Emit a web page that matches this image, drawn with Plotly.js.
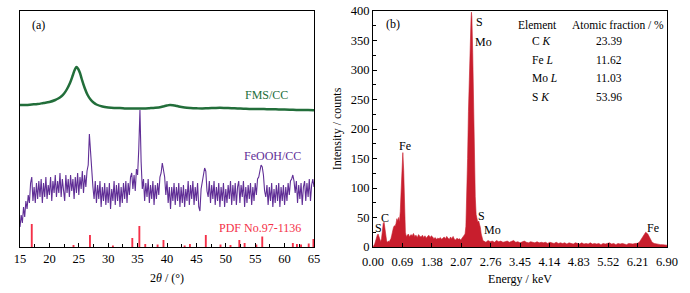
<!DOCTYPE html>
<html>
<head>
<meta charset="utf-8">
<script src="https://cdn.plot.ly/plotly-3.0.1.min.js"></script>
<style>html,body{margin:0;padding:0;background:#fff;}#chart{width:690px;height:293px;}</style>
</head>
<body>
<div id="chart"></div>
<script>
// ---------- Panel (a): XRD ----------
const fmsAngle = [15,16,17,18,19,20,21,21.5,22,22.5,23,23.5,24,24.3,24.6,24.9,25.2,25.5,26,26.5,27,27.5,28,29,30,31,32,33,34,35,36,37,38,39,39.5,40,40.5,41,41.5,42,43,44,45,46,47,48,49,50,51,52,53,54,55,56,57,58,59,60,61,62,63,64,65];
const fmsIntensity = [142,142,142.5,143,144,145,147,148.5,150.5,153.5,158,164,172,177,180,178,174,168,159,152,147.5,144.5,142.5,140.5,139.5,139,139,138.5,138.5,138.5,138.5,138.8,139.2,140,140.8,141.5,142,141.8,141.3,140.5,139.5,139,138.7,138.5,138.8,139,139.2,139,138.8,138.5,138.3,138,138,138,137.8,137.8,137.5,137.5,137.3,137,137,137,136.8];

// FeOOH/CC pattern, sampled every 0.2 deg starting at 15 deg
const feoohStart = 15, feoohStep = 0.2;
const feoohIntensity = [
20,32,24,40,30,46,38,52,44,64,
70,46,60,44,64,48,66,50,68,44,
64,50,70,48,62,52,70,46,66,54,
72,50,66,54,74,50,68,56,46,72,
54,68,50,72,56,68,48,70,54,74,
52,70,58,76,54,72,60,76,82,113,
95,72,60,48,66,44,62,48,66,40,
60,46,64,42,60,44,64,38,58,46,
66,42,62,46,64,40,60,44,64,48,
66,44,64,52,70,74,58,72,56,78,
72,98,137,85,58,68,46,64,50,68,
44,62,48,66,42,62,48,64,52,70,
74,84,78,70,52,66,44,60,38,60,
46,64,42,60,46,64,40,60,44,62,
40,58,46,66,42,62,48,66,42,60,
46,64,40,36,58,64,72,79,76,56,
50,66,44,62,48,66,42,60,46,64,
40,60,46,64,40,58,44,62,48,66,
42,62,46,64,42,60,66,44,62,50,
66,40,60,44,62,48,64,42,60,46,
64,52,68,70,76,82,80,72,56,50,
62,42,60,46,64,40,58,44,62,46,
64,40,60,46,62,42,60,46,64,52,
66,68,72,66,54,66,44,62,48,64,
42,60,66,46,64,50,68,46,62,68,
60];

// PDF No.97-1136 reference lines
const pdfAngle = [17.0,24.1,26.9,30.8,34.1,35.3,36.3,38.4,39.4,43.0,43.9,46.6,49.1,50.8,52.3,53.2,55.2,56.2,61.4,62.1,62.8,64.1,64.9];
const pdfIntensity = [23,2,12,1.5,9,21,3,2.5,7,1.5,3,12,2.5,2,7,4,2.5,10.5,4,3,2.5,3.5,8];

const xrdTicks = [15,20,25,30,35,40,45,50,55,60,65];

// ---------- Panel (b): EDS ----------
const edsEnergy = [
0.00,0.02,0.04,0.06,0.08,0.10,0.12,0.14,0.16,0.18,0.20,0.22,0.24,0.26,0.28,0.30,0.32,0.34,0.36,0.38,
0.40,0.42,0.44,0.46,0.48,0.50,0.52,0.54,0.56,0.58,0.60,0.62,0.64,0.66,0.68,0.70,0.72,0.74,0.76,0.78,0.80,
0.83,0.86,0.89,0.92,0.95,0.98,1.01,1.04,1.07,1.10,1.13,1.16,1.19,1.22,1.25,1.28,1.31,1.34,1.37,1.40,
1.43,1.46,1.49,1.52,1.55,1.58,1.61,1.64,1.67,1.70,1.73,1.76,1.79,1.82,1.85,1.88,1.91,1.94,1.97,2.00,
2.03,2.06,2.09,2.12,
2.14,2.16,2.18,2.20,2.22,2.24,2.26,2.28,2.30,2.31,2.32,2.34,2.36,2.38,2.40,2.42,2.44,2.46,2.48,2.50,2.52,2.54,2.56,2.58,
2.60,2.65,2.70,2.75,2.80,2.85,2.90,2.95,3.00,3.05,3.10,3.15,3.20,3.25,3.30,3.35,3.40,3.45,3.50,3.55,
3.60,3.65,3.70,3.75,3.80,3.85,3.90,3.95,4.00,4.05,4.10,4.15,4.20,4.25,4.30,4.35,4.40,4.45,4.50,4.55,
4.60,4.65,4.70,4.75,4.80,4.85,4.90,4.95,5.00,5.05,5.10,5.15,5.20,5.25,5.30,5.35,5.40,5.45,5.50,5.55,
5.60,5.65,5.70,5.75,5.80,5.85,5.90,5.95,6.00,6.05,6.10,6.15,6.20,
6.25,6.30,6.35,6.40,6.45,6.50,6.55,6.60,6.65,6.70,6.75,6.80,6.85,6.90];
const edsCounts = [
0,2,5,10,16,20,22,18,12,9,14,30,40,42,30,15,10,8,10,9,
12,14,20,28,33,36,35,40,48,44,50,42,60,95,140,160,130,70,25,18,20,
22,17,21,19,23,18,20,16,21,18,17,20,16,19,15,18,20,16,19,17,
14,16,13,15,14,16,13,15,17,14,18,15,13,17,14,18,13,12,15,13,
14,12,15,18,
18,22,35,80,150,230,300,350,385,398,390,330,230,140,85,55,45,42,44,40,33,22,14,11,
10,8,11,9,10,8,11,9,10,8,9,10,8,9,11,8,9,7,9,10,
8,7,9,8,7,9,7,8,7,8,6,8,7,6,8,6,7,6,7,5,
7,6,5,7,6,5,7,5,6,5,7,5,6,5,6,4,6,5,6,7,
5,6,4,6,5,6,5,4,6,5,5,6,6,
8,13,20,25,22,14,8,6,5,5,4,4,3,3];

const edsTickLabels = ["0.00","0.69","1.38","2.07","2.76","3.45","4.14","4.83","5.52","6.21","6.90"];

const tableElements = ["C <i>K</i>","Fe <i>L</i>","Mo <i>L</i>","S <i>K</i>"];
const tableFractions = ["23.39","11.62","11.03","53.96"];

// ---------- Build ----------
const serif = "Liberation Serif, Times New Roman, serif";
const cGreen = "rgb(34,110,58)";
const cPurple = "rgb(96,46,150)";
const cPdf = "rgb(244,48,72)";
const cEds = "rgb(200,30,45)";

const traces = [
  {x: fmsAngle, y: fmsIntensity, type: "scatter", mode: "lines", line: {color: cGreen, width: 2.5, shape: "spline"}, xaxis: "x", yaxis: "y", hoverinfo: "skip"},
  {x0: feoohStart, dx: feoohStep, y: feoohIntensity, type: "scatter", mode: "lines", line: {color: cPurple, width: 1.1}, xaxis: "x", yaxis: "y", hoverinfo: "skip"},
  {x: pdfAngle, y: pdfIntensity, type: "bar", width: 0.32, marker: {color: cPdf, line: {width: 0}}, xaxis: "x", yaxis: "y", hoverinfo: "skip"},
  {x: edsEnergy, y: edsCounts, type: "scatter", mode: "lines", fill: "tozeroy", fillcolor: cEds, line: {color: cEds, width: 0.6}, xaxis: "x2", yaxis: "y2", hoverinfo: "skip"}
];

const annFont = {family: serif, size: 12, color: "#000"};
const annotations = [
  {xref: "x", yref: "y", x: 18.1, y: 222, text: "(a)", showarrow: false, font: annFont},
  {xref: "x", yref: "y", x: 56.9, y: 152, text: "FMS/CC", showarrow: false, font: {family: serif, size: 12, color: cGreen}},
  {xref: "x", yref: "y", x: 58.0, y: 91, text: "FeOOH/CC", showarrow: false, font: {family: serif, size: 12, color: cPurple}},
  {xref: "x", yref: "y", x: 55.8, y: 19, text: "PDF No.97-1136", showarrow: false, font: {family: serif, size: 12, color: cPdf}},
  {xref: "x2", yref: "y2", x: 0.47, y: 378, text: "(b)", showarrow: false, font: annFont},
  {xref: "x2", yref: "y2", x: 2.50, y: 381, text: "S", showarrow: false, font: annFont},
  {xref: "x2", yref: "y2", x: 2.60, y: 347, text: "Mo", showarrow: false, font: annFont},
  {xref: "x2", yref: "y2", x: 0.76, y: 172, text: "Fe", showarrow: false, font: annFont},
  {xref: "x2", yref: "y2", x: 0.29, y: 50, text: "C", showarrow: false, font: annFont},
  {xref: "x2", yref: "y2", x: 0.13, y: 32, text: "S", showarrow: false, font: annFont},
  {xref: "x2", yref: "y2", x: 2.55, y: 52, text: "S", showarrow: false, font: annFont},
  {xref: "x2", yref: "y2", x: 2.80, y: 29, text: "Mo", showarrow: false, font: annFont},
  {xref: "x2", yref: "y2", x: 6.57, y: 32, text: "Fe", showarrow: false, font: annFont},
  {xref: "x2", yref: "y2", x: 3.87, y: 376, text: "Element", showarrow: false, font: {family: serif, size: 11.5, color: "#000"}},
  {xref: "x2", yref: "y2", x: 5.75, y: 376, text: "Atomic fraction / %", showarrow: false, font: {family: serif, size: 11.5, color: "#000"}}
];
const rowY = [349, 317, 286, 254];
tableElements.forEach((t, i) => {
  annotations.push({xref: "x2", yref: "y2", x: 3.69, y: rowY[i], xanchor: "left", text: t, showarrow: false, font: {family: serif, size: 11.5, color: "#000"}});
  annotations.push({xref: "x2", yref: "y2", x: 5.53, y: rowY[i], text: tableFractions[i], showarrow: false, font: {family: serif, size: 11.5, color: "#000"}});
});

const tickFont = {family: serif, size: 12.5, color: "#000"};
const layout = {
  width: 690, height: 293,
  margin: {l: 20, r: 23, t: 11, b: 46},
  paper_bgcolor: "#fff", plot_bgcolor: "#fff",
  showlegend: false,
  font: {family: serif, color: "#000"},
  xaxis: {
    domain: [0, 0.4544], range: [15, 65], tickmode: "array", tickvals: xrdTicks,
    ticks: "inside", ticklen: 4, tickcolor: "#000", tickfont: tickFont,
    minor: {dtick: 2.5, ticks: "inside", ticklen: 3, tickcolor: "#000"},
    showline: true, linecolor: "#000", linewidth: 1, mirror: true, showgrid: false, zeroline: false,
    title: {text: "2<i>θ</i> / (°)", font: {family: serif, size: 12, color: "#000"}, standoff: 8}
  },
  yaxis: {
    domain: [0, 1], range: [0, 236], showticklabels: false, ticks: "",
    showline: true, linecolor: "#000", linewidth: 1, mirror: true, showgrid: false, zeroline: false
  },
  xaxis2: {
    domain: [0.5456, 1], range: [0, 6.9], anchor: "y2", tickmode: "array",
    tickvals: edsTickLabels.map(Number), ticktext: edsTickLabels,
    ticks: "inside", ticklen: 4, tickcolor: "#000", tickfont: tickFont, ticklabelstandoff: 3,
    showline: true, linecolor: "#000", linewidth: 1, mirror: true, showgrid: false, zeroline: false,
    title: {text: "Energy / keV", font: {family: serif, size: 12, color: "#000"}, standoff: 6}
  },
  yaxis2: {
    domain: [0, 1], range: [0, 400], anchor: "x2", dtick: 50, tick0: 0,
    ticks: "inside", ticklen: 4, tickcolor: "#000", tickfont: tickFont,
    minor: {dtick: 25, ticks: "inside", ticklen: 2.5, tickcolor: "#000"},
    showline: true, linecolor: "#000", linewidth: 1, mirror: true, showgrid: false, zeroline: false,
    title: {text: "Intensity / counts", font: {family: serif, size: 12, color: "#000"}, standoff: 6}
  },
  annotations: annotations
};

Plotly.newPlot("chart", traces, layout, {staticPlot: true, displayModeBar: false});
</script>
</body>
</html>
